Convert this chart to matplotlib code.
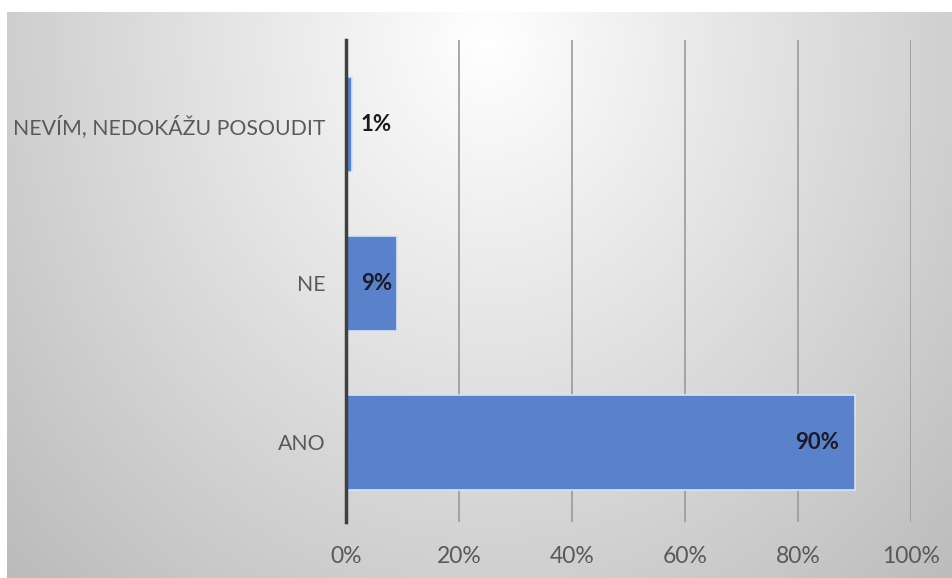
import numpy as np
import matplotlib
matplotlib.use("Agg")
import matplotlib.pyplot as plt

categories = ["ANO", "NE", "NEVÍM, NEDOKÁŽU POSOUDIT"]
values = [90, 9, 1]
value_labels = ["90%", "9%", "1%"]
xticks = [0, 20, 40, 60, 80, 100]
xtick_labels = ["0%", "20%", "40%", "60%", "80%", "100%"]

FONT = "Lato"
W, H = 953, 578
fig = plt.figure(figsize=(W / 100, H / 100), dpi=100)
fig.patch.set_facecolor("white")

# background gradient chart area
bg = fig.add_axes([7 / W, 0, (W - 7) / W, (H - 12) / H])
bg.set_axis_off()
yy, xx = np.mgrid[0:566, 0:946]
cx, cy = 480, 30
r = np.sqrt(((xx - cx) / 540) ** 2 + ((yy - cy) / 620) ** 2)
r = np.clip(r, 0, 1.3)
g = (255 - 55 * r) / 255
img = np.dstack([g, g, g])
bg.imshow(img, aspect="auto", extent=[0, 1, 0, 1], origin="upper")
bg.set_xlim(0, 1)
bg.set_ylim(0, 1)

ax = fig.add_axes([346 / W, 1 - 522 / H, (911 - 346) / W, (522 - 40) / H])
ax.patch.set_alpha(0)
y = np.arange(len(categories))
ax.barh(y, values, height=0.6, color="#5A82CB", edgecolor="#D6E4F5", linewidth=1.2, zorder=3)
ax.set_xlim(0, 100)
ax.set_ylim(-0.5, 2.53)
ax.set_xticks(xticks)
ax.set_xticklabels(xtick_labels)
ax.set_yticks(y)
ax.set_yticklabels(categories)
for s in ["top", "right", "bottom"]:
    ax.spines[s].set_visible(False)
ax.spines["left"].set_color("#404040")
ax.spines["left"].set_linewidth(2.5)
ax.spines["left"].set_zorder(5)
ax.grid(axis="x", color="#9a9a9a", linewidth=1.2, zorder=1)
ax.tick_params(axis="both", length=0, labelcolor="#595959")
ax.tick_params(axis="y", pad=14.5, labelsize=15.3)
ax.tick_params(axis="x", pad=17, labelsize=16.5)
for lab in ax.get_xticklabels() + ax.get_yticklabels():
    lab.set_fontfamily(FONT)

for yi, v, lab in zip(y, values, value_labels):
    if v >= 5:
        off = 2.8 if v > 50 else 0.9
        ax.text(v - off, yi, lab, ha="right", va="center", fontsize=16,
                fontweight="bold", color="#1a1a2a", family=FONT, zorder=4)
    else:
        ax.text(v + 1.5, yi, lab, ha="left", va="center", fontsize=16,
                fontweight="bold", color="#1a1a1a", family=FONT, zorder=4)

fig.savefig("out.png", dpi=100)
